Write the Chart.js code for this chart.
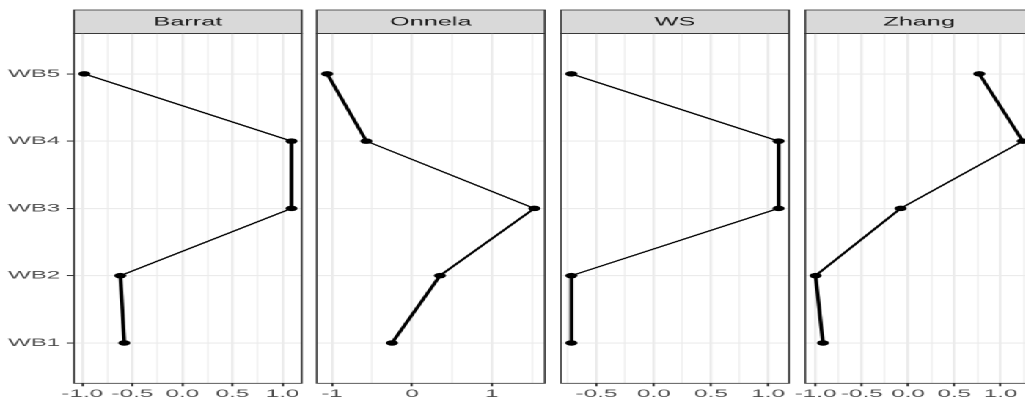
<!DOCTYPE html>
<html>
<head>
<meta charset="utf-8">
<script src="https://cdn.jsdelivr.net/npm/chart.js@4.4.0/dist/chart.umd.min.js"></script>
<style>
  html, body { margin: 0; padding: 0; background: #ffffff; overflow: hidden; }
  /* the reference is a ggplot facet image stretched sideways, so draw narrow and stretch */
  #stage { position: relative; width: 480px; height: 404px; transform: scaleX(2.2); transform-origin: 0 0; }
  #stage canvas { position: absolute; top: 0; }
</style>
</head>
<body>
<div id="stage"></div>
<script>
// Data
const categories = ['WB1', 'WB2', 'WB3', 'WB4', 'WB5'];
const panelNames = ['Barrat', 'Onnela', 'WS', 'Zhang'];

const barratValues = [-0.58, -0.62, 1.09, 1.09, -0.98];
const onnelaValues = [-0.25, 0.35, 1.53, -0.57, -1.06];
const wsValues = [-0.72, -0.72, 1.09, 1.09, -0.72];
const zhangValues = [-0.92, -1.00, -0.08, 1.24, 0.77];

// Major x ticks and their labels, one pair per panel
const barratTicks = [-1, -0.5, 0, 0.5, 1];
const barratTickLabels = ['-1.0', '-0.5', '0.0', '0.5', '1.0'];
const onnelaTicks = [-1, 0, 1];
const onnelaTickLabels = ['-1', '0', '1'];
const wsTicks = [-0.5, 0, 0.5, 1];
const wsTickLabels = ['-0.5', '0.0', '0.5', '1.0'];
const zhangTicks = [-1, -0.5, 0, 0.5, 1];
const zhangTickLabels = ['-1.0', '-0.5', '0.0', '0.5', '1.0'];

// Layout (in unstretched pixels)
const panelW = 103.6;
const panelLeft0 = 33.6;
const panelStep = 110.65;
const stripTop = 10;
const plotTop = 33.5;
const plotBottom = 383.3;
const H = 404;
const margin = 14;

const FONT = '"Liberation Sans", Arial, Helvetica, sans-serif';
const THIN = 1.15, MID = 1.45, THICK = 1.75;

const panels = [
    { values: barratValues, ticks: barratTicks, labels: barratTickLabels, widths: [THICK, THIN, THICK, THIN] },
    { values: onnelaValues, ticks: onnelaTicks, labels: onnelaTickLabels, widths: [THICK, MID, THIN, THICK] },
    { values: wsValues, ticks: wsTicks, labels: wsTickLabels, widths: [THICK, THIN, THICK, THIN] },
    { values: zhangValues, ticks: zhangTicks, labels: zhangTickLabels, widths: [THICK, MID, THIN, THICK] }
];

// ggplot style 5% expansion of the data range
function expandRange(vals) {
    const lo = Math.min(...vals), hi = Math.max(...vals);
    const pad = (hi - lo) * 0.05;
    return [lo - pad, hi + pad];
}

// minor grid lines halfway between majors
function minorTicks(majors, lo, hi) {
    const step = majors[1] - majors[0];
    const out = [];
    for (let v = majors[0] - step / 2; v <= hi; v += step) {
        if (v >= lo) out.push(v);
    }
    return out;
}

function isMajor(v, majors) {
    return majors.some(m => Math.abs(m - v) < 1e-9);
}

// strip on top + panel border
const panelDecor = {
    id: 'panelDecor',
    beforeDraw(chart, args, opts) {
        const a = chart.chartArea;
        const ctx = chart.ctx;
        ctx.save();
        ctx.fillStyle = '#D9D9D9';
        ctx.fillRect(a.left, stripTop, a.right - a.left, a.top - stripTop);
        ctx.strokeStyle = '#333333';
        ctx.lineWidth = 0.8;
        ctx.strokeRect(a.left, stripTop, a.right - a.left, a.top - stripTop);
        ctx.fillStyle = '#1A1A1A';
        ctx.font = '11.5px ' + FONT;
        ctx.textAlign = 'center';
        ctx.textBaseline = 'middle';
        ctx.fillText(opts.title, (a.left + a.right) / 2, (stripTop + a.top) / 2 + 0.5);
        ctx.restore();
    },
    afterDraw(chart) {
        const a = chart.chartArea;
        const ctx = chart.ctx;
        ctx.save();
        ctx.strokeStyle = '#333333';
        ctx.lineWidth = 0.8;
        ctx.strokeRect(a.left, a.top, a.right - a.left, a.bottom - a.top);
        ctx.restore();
    }
};

function createPanel(i) {
    const p = panels[i];
    const first = i === 0;
    const left = panelLeft0 + i * panelStep;
    const canvasLeft = first ? 0 : left - margin;
    const padLeft = first ? 0 : margin;
    const yWidth = first ? panelLeft0 : 0;
    const canvasW = Math.ceil(padLeft + yWidth + panelW + margin);
    const padRight = canvasW - (padLeft + yWidth + panelW);

    const [lo, hi] = expandRange(p.values);
    const allTicks = p.ticks.concat(minorTicks(p.ticks, lo, hi)).sort((a, b) => a - b);

    const canvas = document.createElement('canvas');
    canvas.width = canvasW;
    canvas.height = H;
    canvas.style.left = canvasLeft + 'px';
    canvas.style.width = canvasW + 'px';
    canvas.style.height = H + 'px';
    document.getElementById('stage').appendChild(canvas);

    const config = {
        type: 'line',
        data: {
            datasets: [{
                data: p.values.map((v, k) => ({ x: v, y: k + 1 })),
                borderColor: '#000000',
                backgroundColor: '#000000',
                borderWidth: THIN,
                pointRadius: 2.75,
                pointHoverRadius: 2.75,
                pointBorderWidth: 0,
                tension: 0,
                segment: {
                    borderWidth: c => p.widths[c.p0DataIndex]
                }
            }]
        },
        options: {
            responsive: false,
            maintainAspectRatio: false,
            devicePixelRatio: 2,
            animation: false,
            events: [],
            layout: {
                padding: { top: plotTop, bottom: 0, left: padLeft, right: padRight }
            },
            plugins: {
                legend: { display: false },
                tooltip: { enabled: false },
                panelDecor: { title: panelNames[i] }
            },
            scales: {
                x: {
                    type: 'linear',
                    min: lo,
                    max: hi,
                    afterBuildTicks: s => { s.ticks = allTicks.map(v => ({ value: v })); },
                    afterFit: s => { s.height = H - plotBottom; },
                    ticks: {
                        autoSkip: false,
                        maxRotation: 0,
                        color: '#4D4D4D',
                        padding: 1,
                        font: { family: FONT, size: 11 },
                        callback: v => {
                            const k = p.ticks.findIndex(m => Math.abs(m - v) < 1e-9);
                            return k >= 0 ? p.labels[k] : '';
                        }
                    },
                    grid: {
                        color: '#EBEBEB',
                        lineWidth: c => isMajor(c.tick.value, p.ticks) ? 1.2 : 0.6,
                        tickLength: 3,
                        tickWidth: 1,
                        tickColor: c => isMajor(c.tick.value, p.ticks) ? '#333333' : 'rgba(0,0,0,0)'
                    },
                    border: { display: false }
                },
                y: {
                    type: 'linear',
                    min: 0.4,
                    max: 5.6,
                    afterBuildTicks: s => { s.ticks = categories.map((c, k) => ({ value: k + 1 })); },
                    afterFit: s => { s.width = yWidth; },
                    ticks: {
                        display: first,
                        color: '#4D4D4D',
                        padding: 3,
                        font: { family: FONT, size: 11 },
                        callback: v => categories[Math.round(v) - 1]
                    },
                    grid: {
                        color: '#EBEBEB',
                        lineWidth: 1.1,
                        drawTicks: first,
                        tickLength: 3.2,
                        tickWidth: 1,
                        tickColor: '#333333'
                    },
                    border: { display: false }
                }
            }
        },
        plugins: [panelDecor]
    };

    new Chart(canvas.getContext('2d'), config);
}

for (let i = 0; i < panels.length; i++) {
    createPanel(i);
}
</script>
</body>
</html>
